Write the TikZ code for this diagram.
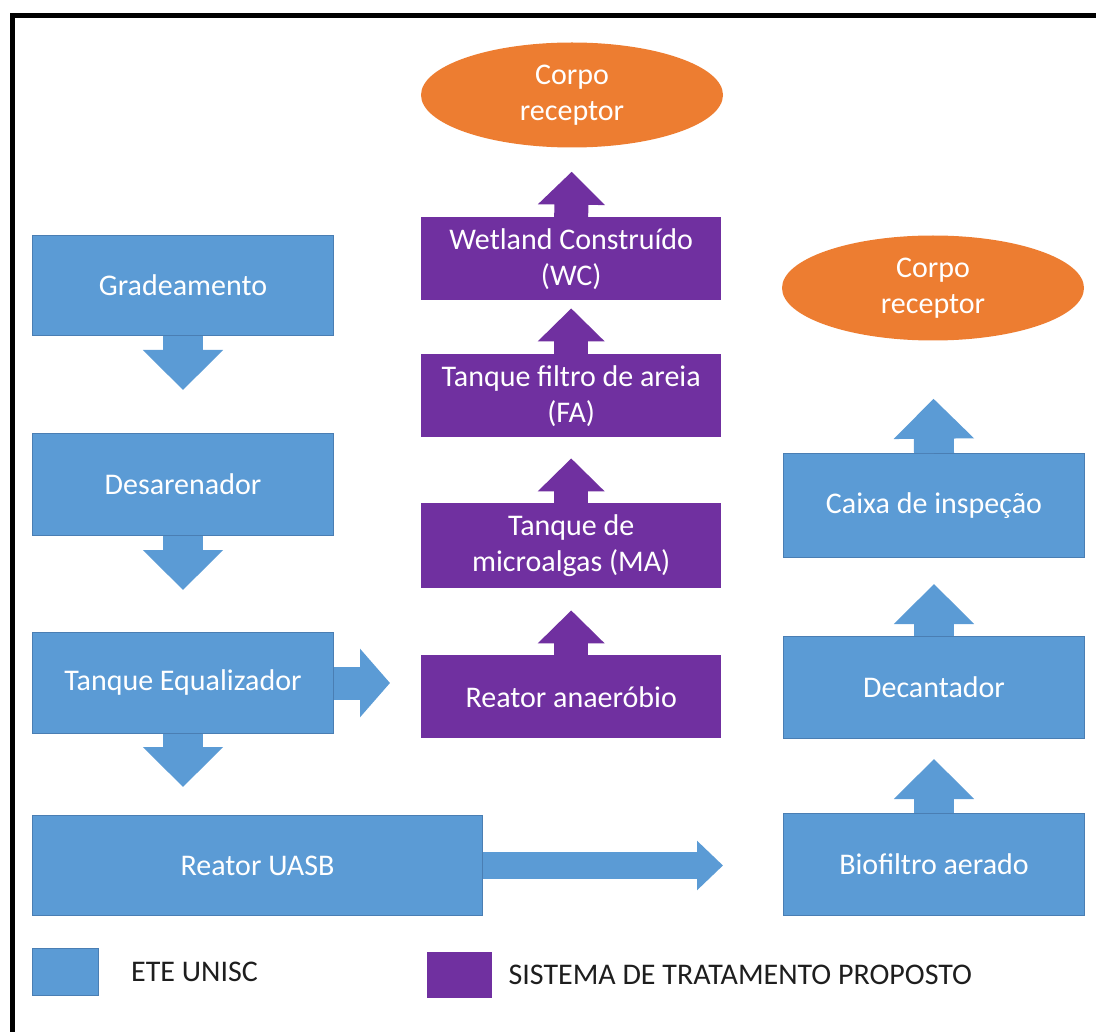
\documentclass[tikz,border=0pt]{standalone}
\usepackage{fontspec}
\setmainfont{Carlito}
\usetikzlibrary{positioning,shapes.geometric,arrows.meta}

\definecolor{eteblue}{HTML}{5B9BD5}
\definecolor{eteedge}{HTML}{4A7EB3}
\definecolor{propviolet}{HTML}{7030A0}
\definecolor{bodyorange}{HTML}{ED7D31}
\definecolor{legendtext}{HTML}{1E1E1E}

\begin{document}
\begin{tikzpicture}[
  x=1pt, y=-1pt,
  font=\fontsize{30}{36}\selectfont,
  ete/.style={fill=eteblue, draw=eteedge, line width=1pt, text=white,
              align=center, minimum width=301pt, anchor=north west},
  prop/.style={fill=propviolet, text=white, align=center,
               minimum width=300pt, anchor=north west},
  corpo/.style={ellipse, fill=bodyorange, text=white, align=center,
                minimum width=302pt, minimum height=105pt, inner sep=0pt},
  eteflow/.style={line width=40pt, draw=eteblue,
                  -{Triangle[width=78pt, length=40pt]}},
  etelong/.style={line width=27pt, draw=eteblue,
                  -{Triangle[width=48pt, length=26pt]}},
  etefeed/.style={line width=33pt, draw=eteblue,
                  -{Triangle[width=67pt, length=30pt]}},
  propflow/.style={line width=34pt, draw=propviolet,
                   -{Triangle[width=65pt, length=33pt]}},
  legendbox/.style={minimum width=66pt, minimum height=47pt,
                    inner sep=0pt, anchor=north west},
  legendlabel/.style={text=legendtext, font=\fontsize{30}{36}\selectfont,
                      anchor=west, inner sep=0pt},
]
\useasboundingbox (0,0) rectangle (1096,1032);
\clip (0,0) rectangle (1096,1032);

% ── frame ────────────────────────────────────────────────────────────────────
\draw[line width=5pt] (12.5,16) rectangle (1130,1070);

% ── ETE UNISC (existing plant) ───────────────────────────────────────────────
\node[ete, minimum height=100pt] (grad)   at (32,235) {Gradeamento};
\node[ete, minimum height=102pt] (desar)  at (32,433) {Desarenador};
\node[ete, minimum height=101pt] (equal)  at (32,632) {Tanque Equalizador};
\node[ete, minimum width=450pt, minimum height=100pt] (uasb) at (32,815)
  {Reator UASB};

\node[ete, minimum height=102pt] (bio)    at (783,813) {Biofiltro aerado};
\node[ete, minimum height=102pt] (decant) at (783,636) {Decantador};
\node[ete, minimum height=104pt] (caixa)  at (783,453) {Caixa de inspeção};
\node[corpo] (corpoete) at (933,288) {Corpo\\receptor};

% ── proposed system ──────────────────────────────────────────────────────────
\node[prop, minimum height=83pt] (anaer)  at (421,655) {Reator anaeróbio};
\node[prop, minimum height=85pt] (micro)  at (421,503)
  {Tanque de\\microalgas (MA)};
\node[prop, minimum height=83pt] (filtro) at (421,354)
  {Tanque filtro de areia\\(FA)};
\node[prop, minimum height=83pt] (wetland) at (421,217)
  {Wetland Construído\\(WC)};
\node[corpo] (corpoprop) at (572,95) {Corpo\\receptor};

% ── flow arrows ──────────────────────────────────────────────────────────────
\draw[eteflow, shorten >=43pt] (grad.south) -- (desar.north);
\draw[eteflow, shorten >=42pt] (desar.south) -- (equal.north);
\draw[eteflow, shorten >=28pt] (equal.south) -- (equal.south |- uasb.north);
\draw[etefeed, shorten >=31pt] (equal.east) -- (equal.east -| anaer.west);
\draw[etelong, shorten >=60pt] (uasb.east) -- (uasb.east -| bio.west);

\draw[eteflow, shorten >=20pt] (bio.north) -- (decant.south);
\draw[eteflow, shorten >=26pt] (decant.north) -- (caixa.south);
\draw[eteflow, shorten >=58pt] (caixa.north) -- (corpoete.south);

\draw[propflow, shorten >=22pt] (anaer.north) -- (micro.south);
\draw[propflow, shorten >=21pt] (micro.north) -- (filtro.south);
\draw[propflow, shorten >=8pt]  (filtro.north) -- (wetland.south);
\draw[propflow, shorten >=24pt] (wetland.north) -- (corpoprop.south);

% ── legend ───────────────────────────────────────────────────────────────────
\node[legendbox, fill=eteblue, draw=eteedge, line width=1pt] (legete)
  at (32,948) {};
\node[legendlabel, right=32pt of legete] (legetetext) {ETE UNISC};
\node[legendbox, fill=propviolet, minimum width=65pt, minimum height=46pt]
  (legprop) at (427,952) {};
\node[legendlabel, right=16pt of legprop] (legproptext)
  {SISTEMA DE TRATAMENTO PROPOSTO};

\end{tikzpicture}
\end{document}
